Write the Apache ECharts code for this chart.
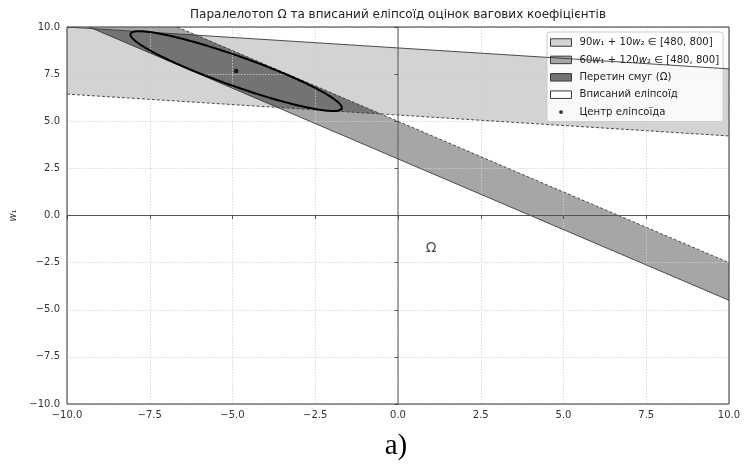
<!DOCTYPE html>
<html><head><meta charset="utf-8">
<script src="https://cdn.jsdelivr.net/npm/echarts@6/dist/echarts.min.js"></script>
<style>html,body{margin:0;padding:0;background:#fff}#c{width:755px;height:468px}</style>
</head><body><div id="c"></div>
<script>
// ---- data ----
const titleText = 'Паралелотоп Ω та вписаний еліпсоїд оцінок вагових коефіцієнтів';
const legendNames = ['90w₁ + 10w₂ ∈ [480, 800]', '60w₁ + 120w₂ ∈ [480, 800]', 'Перетин смуг (Ω)', 'Вписаний еліпсоїд', 'Центр еліпсоїда'];
const band1Upper = [[-10, 10.0], [10, 7.78]];
const band1Lower = [[-10, 6.44], [10, 4.22]];
const band2Upper = [[-6.67, 10], [10, -2.5]];
const band2Lower = [[-9.33, 10], [10, -4.5]];
const omegaVertices = [[-9.22, 9.91], [-6.09, 9.57], [-0.52, 5.39], [-3.65, 5.74]];
const ellipseCenter = [-4.89, 7.66];
const ellipseAxisU = [3.19, -1.98];
const ellipseAxisV = [-0.15, -0.75];
const omegaLabelPos = [[1.0, -1.75]];
const omegaLabelText = 'Ω';
const zeroLineX = [[0, -10], [0, 10]];
const zeroLineY = [[-10, 0], [10, 0]];
const axisRange = [-10, 10];
const tickStep = 2.5;
const yAxisName = 'w₁';
const figLabel = 'a)';

const FONT = 'DejaVu Sans';
const cLight = '#d3d3d3', cMid = '#a6a6a6', cDark = '#737373', cEdge = '#3a3a3a';

function polygonSeries(name, pts, fill, z) {
  return {
    type: 'custom', name: name, silent: true, z: z,
    data: [pts[0]], itemStyle: { color: fill },
    renderItem: function (params, api) {
      return { type: 'polygon', shape: { points: pts.map(p => api.coord(p)) },
               style: { fill: fill, stroke: 'none' } };
    }
  };
}
function lineSeries(name, pts, color, type, width, z) {
  return { type: 'line', name: name, data: pts, showSymbol: false, silent: true, z: z,
           lineStyle: { color: color, width: width, type: type }, animation: false };
}
const ellipseSeries = {
  type: 'custom', name: legendNames[3], silent: true, z: 6,
  data: [ellipseCenter],
  itemStyle: { color: '#ffffff', borderColor: '#000' },
  renderItem: function (params, api) {
    const pts = [];
    for (let k = 0; k < 180; k++) {
      const t = 2 * Math.PI * k / 180;
      pts.push(api.coord([ellipseCenter[0] + ellipseAxisU[0] * Math.cos(t) + ellipseAxisV[0] * Math.sin(t),
                          ellipseCenter[1] + ellipseAxisU[1] * Math.cos(t) + ellipseAxisV[1] * Math.sin(t)]));
    }
    return { type: 'polygon', shape: { points: pts }, style: { fill: 'none', stroke: '#000', lineWidth: 2 } };
  }
};

const fmt = v => (v < 0 ? '\u2212' : '') + Math.abs(v).toFixed(1);
const axisCommon = {
  type: 'value', min: axisRange[0], max: axisRange[1], interval: tickStep, z: 3,
  axisLine: { show: false },
  axisTick: { show: true, length: 3.5, lineStyle: { color: '#333', width: 0.8 } },
  splitLine: { show: true, lineStyle: { color: '#d0d0d0', type: [1.5, 1.5], width: 0.8 } },
  axisLabel: { formatter: fmt, color: '#333', fontSize: 10, fontFamily: FONT }
};

const chart = echarts.init(document.getElementById('c'), null, { renderer: 'canvas' });
chart.setOption({
  animation: false,
  backgroundColor: '#fff',
  grid: { left: 67, right: 26, top: 27, bottom: 64, show: true, borderColor: '#333', borderWidth: 1, backgroundColor: 'transparent', z: 4 },
  xAxis: Object.assign({}, axisCommon, { axisLabel: Object.assign({}, axisCommon.axisLabel, { margin: 6 }) }),
  yAxis: Object.assign({}, axisCommon, {
    axisLabel: Object.assign({}, axisCommon.axisLabel, { margin: 7 }),
    name: yAxisName.replace('w', '{i|w}'), nameLocation: 'middle', nameGap: 45, nameRotate: 90,
    nameTextStyle: { color: '#333', fontSize: 10, fontFamily: FONT, rich: { i: { fontStyle: 'italic', fontSize: 10, fontFamily: FONT, color: '#333' } } }
  }),
  legend: {
    orient: 'vertical', left: 547, top: 32,
    padding: [4, 4, 3, 3], itemGap: 4.4, itemWidth: 21, itemHeight: 7.5,
    backgroundColor: 'rgba(255,255,255,0.85)', borderColor: '#cccccc', borderWidth: 1, borderRadius: 3,
    selectedMode: false,
    textStyle: { fontSize: 10.1, fontFamily: FONT, color: '#222', lineHeight: 13, padding: [0, 0, 0, 3],
                 rich: { i: { fontStyle: 'italic', fontSize: 10.1, fontFamily: FONT, color: '#222' } } },
    formatter: name => name.replace(/w/g, '{i|w}'),
    data: [
      { name: legendNames[0], icon: 'rect', itemStyle: { color: cLight, borderColor: cEdge, borderWidth: 1 } },
      { name: legendNames[1], icon: 'rect', itemStyle: { color: cMid, borderColor: cEdge, borderWidth: 1 } },
      { name: legendNames[2], icon: 'rect', itemStyle: { color: cDark, borderColor: cEdge, borderWidth: 1 } },
      { name: legendNames[3], icon: 'rect', itemStyle: { color: '#ffffff', borderColor: cEdge, borderWidth: 1 } },
      { name: legendNames[4], icon: 'path://M0,0M21,8M8.5,4a2,2 0 1,0 4,0a2,2 0 1,0 -4,0z', itemStyle: { color: '#000', borderWidth: 0 } }
    ]
  },
  graphic: [
    { type: 'text', x: 398, y: 15, style: { text: titleText, fontSize: 12, fontFamily: FONT, fill: '#222', textAlign: 'center', textVerticalAlign: 'middle' } },
    { type: 'text', x: 396, y: 446, style: { text: figLabel, fontSize: 29, fontFamily: 'Liberation Serif', fill: '#000', textAlign: 'center', textVerticalAlign: 'middle' } }
  ],
  series: [
    polygonSeries(legendNames[0], band1Upper.concat(band1Lower.slice().reverse()), cLight, 1),
    polygonSeries(legendNames[1], band2Upper.concat(band2Lower.slice().reverse()), cMid, 1),
    polygonSeries(legendNames[2], omegaVertices, cDark, 1),
    lineSeries('b1u', band1Upper, cEdge, 'solid', 0.9, 5),
    lineSeries('b1l', band1Lower, cEdge, [3, 2], 0.9, 5),
    lineSeries('b2u', band2Upper, cEdge, [3, 2], 0.9, 5),
    lineSeries('b2l', band2Lower, cEdge, 'solid', 0.9, 5),
    lineSeries('zx', zeroLineX, '#555', 'solid', 1, 5),
    lineSeries('zy', zeroLineY, '#555', 'solid', 1, 5),
    ellipseSeries,
    { type: 'scatter', name: legendNames[4], data: [ellipseCenter], symbolSize: 4.5, itemStyle: { color: '#000' }, z: 7, silent: true },
    { type: 'scatter', name: 'omega', data: omegaLabelPos, symbolSize: 0, silent: true, z: 7,
      label: { show: true, position: 'inside', formatter: omegaLabelText, fontSize: 14, fontFamily: FONT, color: '#222' } }
  ]
});
</script></body></html>
